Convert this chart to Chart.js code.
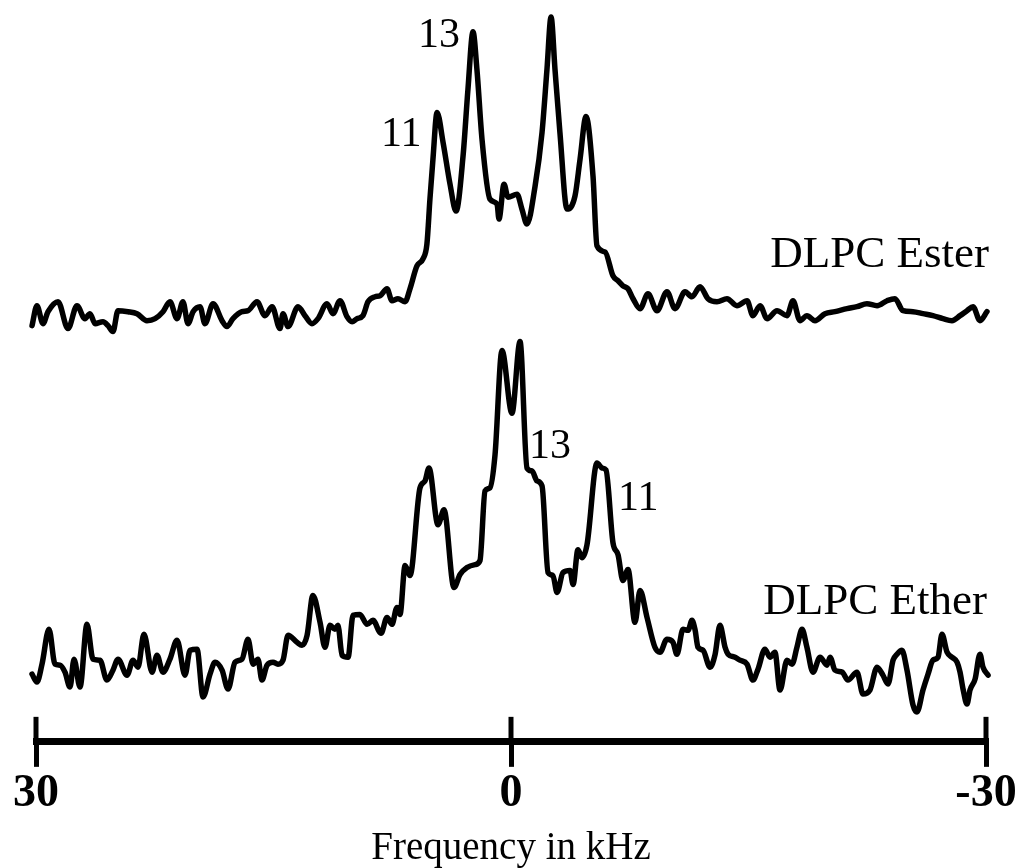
<!DOCTYPE html>
<html>
<head>
<meta charset="utf-8">
<script src="https://cdn.jsdelivr.net/npm/chart.js@4.4.1/dist/chart.umd.min.js"></script>
<style>
  html, body { margin: 0; padding: 0; background: #fff; }
  #wrap { width: 1023px; height: 868px; }
</style>
</head>
<body>
<div id="wrap"><canvas id="nmr"></canvas></div>
<script>
// frequency (kHz) and intensity (arb. units)
const esterKHz = [30.25, 29.94, 29.56, 29.24, 28.61, 27.98, 27.41, 26.91, 26.59, 26.27, 25.77, 25.45, 25.14, 24.82, 24.19, 23.62, 22.99, 22.48, 21.98, 21.54,
  21.09, 20.72, 20.40, 20.08, 19.64, 19.33, 18.82, 18.25, 17.94, 17.56, 16.99, 16.61, 16.04, 15.54, 15.09, 14.59, 14.40, 14.08, 13.45, 13.01,
  12.57, 12.19, 11.62, 11.24, 10.80, 10.36, 10.04, 9.73, 9.35, 9.03, 8.59, 8.27, 7.83, 7.52, 7.14, 6.69, 6.38, 5.94, 5.56, 5.31,
  5.12, 4.93, 4.67, 4.29, 3.85, 3.47, 3.03, 2.72, 2.40, 2.15, 1.83, 1.33, 0.88, 0.76, 0.44, 0.19, -0.38, -0.69, -1.01, -1.52,
  -1.96, -2.27, -2.53, -2.78, -3.09, -3.54, -4.04, -4.36, -4.74, -5.18, -5.43, -5.94, -6.44, -6.76, -7.07, -7.39, -7.71, -8.15, -8.65, -9.22,
  -9.85, -10.36, -10.99, -11.43, -11.94, -12.44, -13.01, -13.64, -14.27, -14.91, -15.28, -15.73, -16.17, -16.80, -17.43, -17.81, -18.25, -18.69, -19.20, -19.83,
  -20.46, -21.22, -21.85, -22.48, -23.12, -23.75, -24.25, -24.76, -25.39, -26.02, -26.65, -27.28, -27.85, -28.36, -28.80, -29.18, -29.62, -30.06];
const esterInt = [83.6, 87.6, 84.0, 86.4, 88.4, 83.0, 87.6, 85.0, 86.0, 84.0, 84.4, 83.6, 82.4, 86.6, 86.4, 86.0, 84.6, 85.0, 86.4, 88.4,
  85.0, 88.4, 84.0, 86.4, 87.4, 84.0, 88.0, 84.6, 83.4, 85.0, 86.4, 86.6, 88.4, 85.6, 87.4, 83.0, 86.0, 83.4, 87.4, 85.6,
  84.0, 85.0, 88.0, 86.0, 88.6, 85.4, 84.4, 85.0, 85.6, 88.4, 89.4, 89.6, 91.0, 88.6, 89.0, 88.4, 91.0, 95.6, 97.0, 100.0,
  109.0, 117.0, 126.4, 120.4, 112.0, 106.6, 117.6, 131.0, 142.6, 135.0, 121.0, 109.0, 108.0, 105.0, 112.0, 109.4, 110.0, 107.0, 104.0, 111.6,
  122.4, 135.0, 145.6, 135.0, 122.4, 107.0, 109.6, 117.0, 125.6, 113.6, 99.6, 98.4, 93.6, 92.6, 91.6, 91.0, 89.0, 87.0, 90.0, 86.6,
  90.4, 87.0, 90.4, 89.4, 91.4, 89.0, 88.4, 89.0, 87.6, 88.6, 85.6, 87.6, 85.0, 86.6, 85.6, 88.6, 84.6, 85.6, 84.6, 86.0,
  86.4, 87.0, 87.4, 88.0, 87.6, 88.6, 89.0, 86.6, 86.4, 86.0, 85.6, 85.0, 84.6, 85.6, 86.6, 87.4, 84.6, 86.4];

const etherKHz = [30.25, 29.94, 29.62, 29.18, 28.80, 28.48, 28.17, 27.85, 27.60, 27.22, 26.78, 26.40, 25.96, 25.52, 25.14, 24.82, 24.25, 23.87, 23.56, 23.18,
  22.67, 22.36, 21.98, 21.54, 21.09, 20.59, 20.27, 19.83, 19.45, 19.01, 18.69, 18.25, 17.87, 17.43, 16.99, 16.61, 16.29, 15.98, 15.73, 15.41,
  15.03, 14.72, 14.40, 14.08, 13.52, 13.20, 12.88, 12.51, 12.06, 11.75, 11.43, 11.12, 10.93, 10.67, 10.29, 9.98, 9.54, 9.09, 8.72, 8.21,
  7.83, 7.52, 7.20, 7.01, 6.69, 6.38, 5.75, 5.43, 5.18, 4.61, 4.23, 3.60, 3.22, 2.78, 2.27, 1.96, 1.64, 1.33, 1.01, 0.57,
  -0.06, -0.57, -1.01, -1.33, -1.64, -1.96, -2.34, -2.65, -2.91, -3.28, -3.73, -3.92, -4.23, -4.48, -4.80, -5.43, -5.75, -6.00, -6.44, -6.76,
  -7.07, -7.39, -7.83, -8.15, -8.59, -9.09, -9.41, -9.85, -10.23, -10.48, -10.86, -11.18, -11.43, -11.62, -11.81, -12.13, -12.57, -12.88, -13.20, -13.52,
  -13.71, -14.15, -14.46, -14.91, -15.28, -15.60, -16.04, -16.36, -16.67, -16.99, -17.43, -17.75, -18.06, -18.38, -18.69, -19.07, -19.52, -19.96, -20.15, -20.46,
  -20.91, -21.28, -21.85, -22.23, -22.67, -23.12, -23.49, -23.81, -24.13, -24.38, -24.69, -25.01, -25.39, -25.64, -26.02, -26.34, -26.65, -26.97, -27.22, -27.54,
  -27.85, -28.17, -28.36, -28.55, -28.80, -28.99, -29.31, -29.62, -29.81, -30.13];
const etherInt = [13.6, 12.0, 15.6, 22.6, 15.6, 15.4, 14.0, 11.0, 16.6, 11.0, 23.6, 16.6, 16.4, 12.4, 14.4, 16.6, 13.4, 16.4, 15.0, 21.6,
  14.0, 17.4, 14.0, 16.6, 20.4, 13.4, 18.4, 18.6, 9.0, 13.6, 16.0, 14.4, 10.6, 16.0, 16.6, 20.6, 15.6, 16.6, 12.4, 15.4,
  16.0, 15.6, 16.4, 21.4, 20.0, 19.4, 21.4, 29.4, 24.0, 19.0, 23.4, 22.6, 23.4, 17.4, 17.0, 25.4, 25.6, 23.6, 24.4, 21.8,
  25.0, 23.6, 27.0, 25.6, 35.4, 33.4, 51.0, 52.4, 55.0, 43.6, 46.6, 31.0, 33.6, 35.0, 35.6, 36.4, 50.4, 51.0, 57.6, 78.6,
  66.0, 80.4, 55.0, 54.4, 52.4, 51.4, 34.0, 33.4, 30.0, 34.0, 34.4, 31.6, 38.6, 37.0, 39.6, 56.0, 55.0, 54.6, 40.0, 37.6,
  32.4, 34.6, 24.0, 30.4, 25.0, 19.0, 18.0, 20.6, 20.0, 17.6, 22.6, 22.4, 24.4, 22.6, 19.0, 18.4, 15.0, 17.4, 23.4, 19.0,
  17.6, 17.0, 16.4, 15.6, 12.4, 14.6, 18.6, 17.0, 18.0, 10.4, 16.4, 15.6, 19.0, 22.6, 19.0, 14.0, 17.0, 15.4, 17.0, 14.4,
  14.0, 12.4, 14.0, 9.6, 10.4, 15.0, 13.4, 11.6, 16.4, 17.6, 18.4, 14.4, 7.4, 6.0, 10.4, 13.6, 16.4, 17.0, 21.6, 18.0,
  17.0, 16.0, 14.0, 10.6, 7.6, 10.4, 12.6, 17.6, 15.0, 13.4];

const axisTicks = [30, 0, -30];

// text annotations anchored in data coordinates
const peakLabels = [
  { text: '13', kHz: 5.87, val: 139.6, size: 42, align: 'left' },
  { text: '11', kHz: 8.21, val: 119.6, size: 42, align: 'left' },
  { text: 'DLPC Ester', kHz: -30.19, val: 95.4, size: 45, align: 'right' },
  { text: '13', kHz: -1.14, val: 57.0, size: 42, align: 'left' },
  { text: '11', kHz: -6.76, val: 46.6, size: 42, align: 'left' },
  { text: 'DLPC Ether', kHz: -30.06, val: 25.6, size: 45, align: 'right' }
];

const toPoints = (xs, ys) => xs.map((x, i) => ({ x, y: ys[i] }));

const serif = '"Liberation Serif", "Times New Roman", "DejaVu Serif", serif';

// Chart.js only draws ticks below the axis line; add the part above it
const upperTicks = {
  id: 'upperTicks',
  afterDraw(chart) {
    const sx = chart.scales.x;
    const ctx = chart.ctx;
    ctx.save();
    ctx.strokeStyle = '#000';
    ctx.lineWidth = 5;
    axisTicks.forEach(v => {
      const px = sx.getPixelForValue(v);
      ctx.beginPath();
      ctx.moveTo(px, sx.top - 25);
      ctx.lineTo(px, sx.top);
      ctx.stroke();
    });
    ctx.restore();
  }
};

const textLabels = {
  id: 'textLabels',
  afterDatasetsDraw(chart) {
    const { x, y } = chart.scales;
    const ctx = chart.ctx;
    ctx.save();
    ctx.fillStyle = '#000';
    ctx.textBaseline = 'alphabetic';
    peakLabels.forEach(l => {
      ctx.font = `${l.size}px ${serif}`;
      ctx.textAlign = l.align;
      ctx.fillText(l.text, x.getPixelForValue(l.kHz), y.getPixelForValue(l.val));
    });
    ctx.restore();
  }
};

const lineStyle = {
  borderColor: '#000',
  borderWidth: 5.5,
  pointRadius: 0,
  cubicInterpolationMode: 'monotone',
  borderJoinStyle: 'round',
  borderCapStyle: 'round',
  fill: false,
  clip: false
};

new Chart(document.getElementById('nmr'), {
  type: 'line',
  data: {
    datasets: [
      { label: 'DLPC Ester', data: toPoints(esterKHz, esterInt), ...lineStyle },
      { label: 'DLPC Ether', data: toPoints(etherKHz, etherInt), ...lineStyle }
    ]
  },
  options: {
    responsive: true,
    maintainAspectRatio: false,
    animation: false,
    layout: { padding: { left: 36, right: 37, top: 0, bottom: 3 } },
    plugins: { legend: { display: false }, tooltip: { enabled: false } },
    scales: {
      x: {
        type: 'linear',
        reverse: true,
        min: -30,
        max: 30,
        afterBuildTicks: axis => { axis.ticks = axisTicks.map(v => ({ value: v })); },
        border: { display: true, color: '#000', width: 7 },
        grid: { drawOnChartArea: false, drawTicks: true, tickLength: 25, color: '#000', lineWidth: 5 },
        ticks: {
          color: '#000',
          padding: 4,
          maxRotation: 0,
          font: { family: serif, size: 46, weight: 'bold', lineHeight: 1 }
        },
        title: {
          display: true,
          text: 'Frequency in kHz',
          color: '#000',
          padding: { top: 11, bottom: 0 },
          font: { family: serif, size: 39, lineHeight: 0.85 }
        }
      },
      y: { display: false, min: 0, max: 149 }
    }
  },
  plugins: [upperTicks, textLabels]
});
</script>
</body>
</html>
